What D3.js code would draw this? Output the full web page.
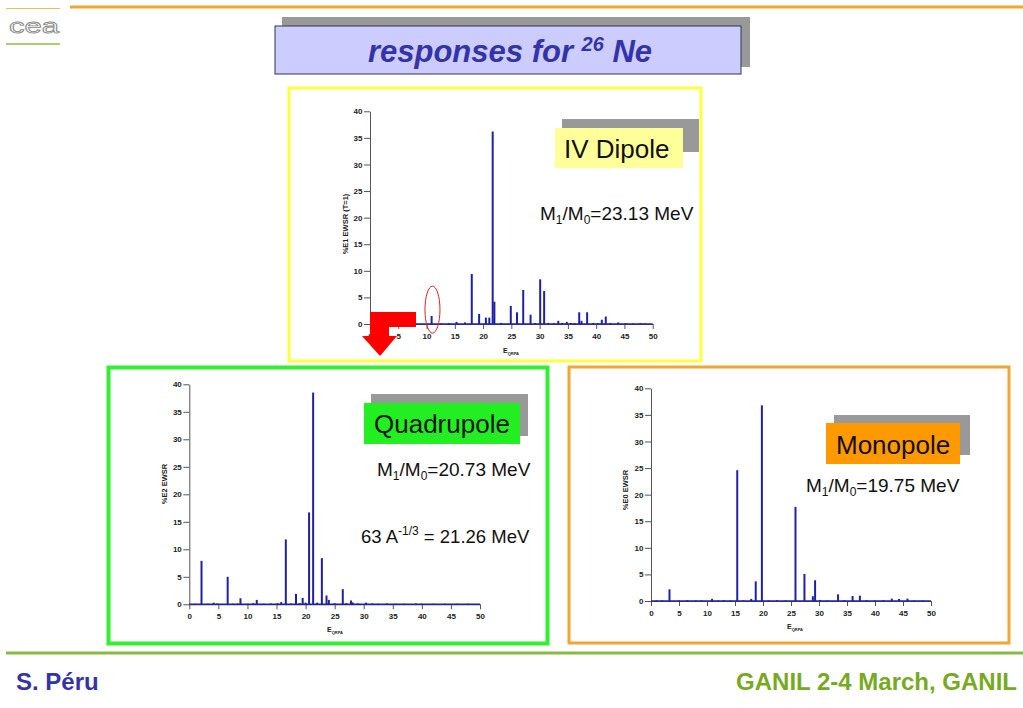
<!DOCTYPE html>
<html><head><meta charset="utf-8">
<script src="https://cdn.jsdelivr.net/npm/d3@7"></script>
<style>
body{margin:0;background:#fff;}
svg{display:block;font-family:"Liberation Sans",Arial,Helvetica,sans-serif;}
</style>
</head><body>
<svg id="c" width="1023" height="708"></svg>
<script>
// ---------- data ----------
const xTicks = [0,5,10,15,20,25,30,35,40,45,50];
const yTicks = [0,5,10,15,20,25,30,35,40];

const dipoleEnergy   = [3.5,6.5,8.0,10.9,12.5,14.0,15.3,16.8,18.0,19.3,20.5,21.1,21.7,22.0,23.2,24.9,26.0,27.1,28.4,29.2,30.1,30.8,31.5,32.5,33.3,34.0,34.8,35.5,36.2,37.0,37.4,38.4,39.5,40.3,41.0,41.7,42.5,43.9,45.2,46.5,47.8,48.6];
const dipoleStrength = [0.1,0.1,0.1,1.5,0.1,0.15,0.4,0.3,9.4,1.9,1.2,1.2,36.2,4.2,0.2,3.4,2.2,6.4,1.75,0.2,8.4,6.2,0.2,0.15,0.6,0.2,0.4,0.2,0.15,2.2,0.6,2.2,0.2,0.15,0.8,1.4,0.2,0.3,0.15,0.1,0.15,0.1];

const quadEnergy   = [1.0,2.1,3.2,4.2,4.8,6.6,7.5,8.3,8.8,10.0,11.0,11.6,12.8,14.0,15.2,15.8,16.6,17.5,18.35,19.0,19.5,20.0,20.6,21.3,22.0,22.8,23.6,24.0,25.0,26.4,27.0,27.8,28.1,29.0,30.4,31.5,32.5,34.0,35.5,37.0,39.0,40.0,42.0,44.0,46.0,48.0];
const quadStrength = [0.1,7.9,0.1,0.3,0.15,5.0,0.1,0.15,1.1,0.1,0.2,0.8,0.1,0.15,0.2,0.4,11.8,0.15,1.9,0.2,1.15,0.3,16.7,38.5,0.3,8.4,1.6,0.8,0.2,2.75,0.2,0.7,0.35,0.15,0.3,0.15,0.1,0.15,0.1,0.1,0.15,0.1,0.1,0.1,0.1,0.1];

const monoEnergy   = [1.0,2.0,3.3,5.0,6.5,8.0,9.0,10.9,12.0,13.0,14.2,15.4,16.5,17.9,18.7,19.8,21.0,22.5,24.0,25.8,27.4,28.9,29.3,30.2,31.5,33.4,34.5,36.0,37.3,38.5,40.0,41.5,43.0,44.3,45.8,47.0,48.5];
const monoStrength = [0.1,0.1,2.2,0.1,0.15,0.1,0.1,0.4,0.1,0.15,0.1,24.6,0.1,0.4,3.7,36.8,0.1,0.15,0.1,17.7,5.1,0.9,3.9,0.2,0.1,1.25,0.15,0.95,1.0,0.15,0.1,0.15,0.45,0.4,0.45,0.1,0.1];

const dipoleLabel = "IV Dipole";
const quadLabel = "Quadrupole";
const monoLabel = "Monopole";
const dipoleCentroid = "23.13";
const quadCentroid = "20.73";
const quadSystematic = "21.26";
const monoCentroid = "19.75";

// ---------- page ----------
const svg = d3.select("#c");
const BAR = "#2020a6";

// logo + top line
svg.append("line").attr("x1",70).attr("x2",1023).attr("y1",7).attr("y2",7).attr("stroke","#f2a62a").attr("stroke-width",3);
svg.append("line").attr("x1",6).attr("x2",60).attr("y1",8.5).attr("y2",8.5).attr("stroke","#e8c24a").attr("stroke-width",1.2);
svg.append("line").attr("x1",6).attr("x2",60).attr("y1",44).attr("y2",44).attr("stroke","#8cbf3f").attr("stroke-width",1.5);
svg.append("text").attr("x",9).attr("y",33).attr("font-size",20).attr("textLength",50).attr("lengthAdjust","spacingAndGlyphs")
  .attr("fill","none").attr("stroke","#8a8a8a").attr("stroke-width",0.8).text("cea");

// title
svg.append("rect").attr("x",282).attr("y",17).attr("width",468).attr("height",50).attr("fill","#999999");
svg.append("rect").attr("x",275).attr("y",26).attr("width",466).attr("height",48).attr("fill","#ccccff").attr("stroke","#333355").attr("stroke-width",1);
const tt = svg.append("text").attr("x",510).attr("y",62).attr("text-anchor","middle")
  .attr("font-size",31).attr("font-weight","bold").attr("font-style","italic").attr("fill","#3434a8");
tt.append("tspan").text("responses for ");
tt.append("tspan").attr("font-size",20).attr("dy",-11).text("26");
tt.append("tspan").attr("dy",11).text(" Ne");

// panels
svg.append("rect").attr("x",289).attr("y",88).attr("width",412).attr("height",273).attr("fill","none").attr("stroke","#ffff40").attr("stroke-width",3);
svg.append("rect").attr("x",108.5).attr("y",367.5).attr("width",439).attr("height",276).attr("fill","none").attr("stroke","#33ee33").attr("stroke-width",4);
svg.append("rect").attr("x",569).attr("y",367).attr("width",440).attr("height",276).attr("fill","none").attr("stroke","#f2a434").attr("stroke-width",3);

// footer
svg.append("line").attr("x1",6).attr("x2",1023).attr("y1",653).attr("y2",653).attr("stroke","#88bb44").attr("stroke-width",3);
svg.append("text").attr("x",16).attr("y",690).attr("font-size",24).attr("font-weight","bold").attr("fill","#3434a8").text("S. Péru");
svg.append("text").attr("x",1017).attr("y",690).attr("text-anchor","end").attr("font-size",24).attr("font-weight","bold").attr("fill","#77aa22").text("GANIL 2-4 March, GANIL");

// ---------- charts ----------
function drawChart(cfg){
  const x = d3.scaleLinear().domain([0,50]).range(cfg.xr);
  const y = d3.scaleLinear().domain([0,40]).range(cfg.yr);
  const g = svg.append("g");
  const ax = g.append("g").attr("transform",`translate(0,${y(0)})`)
    .call(d3.axisBottom(x).tickValues(xTicks).tickSize(5).tickPadding(4).tickSizeOuter(0));
  const ay = g.append("g").attr("transform",`translate(${x(0)},0)`)
    .call(d3.axisLeft(y).tickValues(yTicks).tickSize(6).tickPadding(1.5).tickSizeOuter(0));
  [ax,ay].forEach(a=>{
    a.select(".domain").attr("stroke","#555");
    a.selectAll(".tick line").attr("stroke","#555");
    a.selectAll(".tick text").attr("font-size",8).attr("font-weight","bold").attr("fill","#222")
      .attr("font-family","Liberation Sans, Arial, sans-serif");
  });
  g.append("line").attr("x1",x(0)).attr("x2",x(50)).attr("y1",y(0)).attr("y2",y(0)).attr("stroke",BAR).attr("stroke-width",1.5);
  g.selectAll("line.bar").data(d3.zip(cfg.e,cfg.s)).join("line").attr("class","bar")
    .attr("x1",d=>x(d[0])).attr("x2",d=>x(d[0])).attr("y1",y(0)).attr("y2",d=>y(d[1]))
    .attr("stroke",BAR).attr("stroke-width",2);
  g.append("text").attr("transform",`translate(${cfg.ylx},${cfg.yly}) rotate(-90)`).attr("text-anchor","middle")
    .attr("font-size",7.5).attr("font-weight","bold").attr("fill","#222").text(cfg.ylabel);
  const xt = g.append("text").attr("x",cfg.xlx).attr("y",cfg.xly).attr("text-anchor","middle")
    .attr("font-size",7).attr("font-weight","bold").attr("fill","#222");
  xt.append("tspan").text("E");
  xt.append("tspan").attr("font-size",4).attr("dy",1.5).text("QRPA");
  return {x,y,g};
}

function labelBox(sx,sy,sw,sh,bx,by,bw,bh,fill,txt,tx,ty,fs){
  svg.append("rect").attr("x",sx).attr("y",sy).attr("width",sw).attr("height",sh).attr("fill","#999999");
  svg.append("rect").attr("x",bx).attr("y",by).attr("width",bw).attr("height",bh).attr("fill",fill);
  svg.append("text").attr("x",tx).attr("y",ty).attr("font-size",fs).attr("fill","#111").text(txt);
}
function ratioText(x0,y0,val){
  const t = svg.append("text").attr("x",x0).attr("y",y0).attr("font-size",19).attr("fill","#111");
  t.append("tspan").text("M");
  t.append("tspan").attr("font-size",12).attr("dy",4).text("1");
  t.append("tspan").attr("dy",-4).text("/M");
  t.append("tspan").attr("font-size",12).attr("dy",4).text("0");
  t.append("tspan").attr("dy",-4).text("="+val+" MeV");
}

// Dipole
const c1 = drawChart({xr:[370,652.7], yr:[324,111.3], e:dipoleEnergy, s:dipoleStrength,
  ylabel:"%E1 EWSR (T=1)", ylx:348, yly:224, xlx:511, xly:353});
labelBox(562,119,137,33, 555,128,128,40, "#ffff99", dipoleLabel, 564,158,26);
ratioText(540,220,dipoleCentroid);
svg.append("ellipse").attr("cx",c1.x(11.05)).attr("cy",c1.y(2.7)).attr("rx",7.5).attr("ry",23.5)
  .attr("fill","none").attr("stroke","#e02020").attr("stroke-width",1);
svg.append("path").attr("d","M370,312 H416 V327 H389 V336 H397 L380,356 L362,336 H370 Z").attr("fill","#ff0000");

// Quadrupole
const c2 = drawChart({xr:[189.3,480], yr:[604.3,384.3], e:quadEnergy, s:quadStrength,
  ylabel:"%E2 EWSR", ylx:167, yly:484, xlx:335, xly:632});
labelBox(371,394,157,42, 364,403,156,41, "#22ee22", quadLabel, 374,433,26);
ratioText(377,476,quadCentroid);
const t63 = svg.append("text").attr("x",361).attr("y",543).attr("font-size",18.5).attr("fill","#111");
t63.append("tspan").text("63 A");
t63.append("tspan").attr("font-size",12).attr("dy",-8).text("-1/3");
t63.append("tspan").attr("dy",8).text(" = "+quadSystematic+" MeV");

// Monopole
const c3 = drawChart({xr:[651,931], yr:[601,388.3], e:monoEnergy, s:monoStrength,
  ylabel:"%E0 EWSR", ylx:628, yly:490, xlx:795, xly:629});
labelBox(834,415,136,40, 826,423,134,41, "#ff9900", monoLabel, 836,454,26);
ratioText(806,492,monoCentroid);
</script>
</body></html>
